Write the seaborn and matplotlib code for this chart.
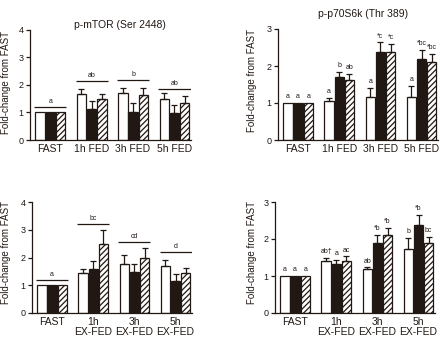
import numpy as np
import pandas as pd
import matplotlib
matplotlib.use("Agg")
import matplotlib.pyplot as plt
import seaborn as sns

# --- data -----------------------------------------------------------------
series = ["open", "filled", "hatched"]
fed_groups = ["FAST", "1h FED", "3h FED", "5h FED"]
exfed_groups = ["FAST", "1h\nEX-FED", "3h\nEX-FED", "5h\nEX-FED"]

# p-mTOR (Ser 2448), feeding only (rows = series, columns = time point)
mtor_fed_mean = [[1.0, 1.65, 1.69, 1.47],
                 [1.0, 1.14, 1.02, 0.96],
                 [1.0, 1.48, 1.63, 1.33]]
mtor_fed_sem = [[0.0, 0.19, 0.18, 0.22],
                [0.0, 0.26, 0.31, 0.29],
                [0.0, 0.17, 0.27, 0.27]]
mtor_fed_sig = ["a", "ab", "b", "ab"]
mtor_fed_sig_y = [1.2, 2.13, 2.17, 1.83]

# p-mTOR (Ser 2448), exercise + feeding
mtor_ex_mean = [[1.0, 1.44, 1.78, 1.71],
                [1.0, 1.59, 1.48, 1.14],
                [1.0, 2.50, 2.00, 1.44]]
mtor_ex_sem = [[0.0, 0.13, 0.32, 0.21],
               [0.0, 0.28, 0.27, 0.28],
               [0.0, 0.50, 0.34, 0.19]]
mtor_ex_sig = ["a", "bc", "cd", "d"]
mtor_ex_sig_y = [1.2, 3.2, 2.57, 2.2]

# p-p70S6k (Thr 389), feeding only
p70_fed_mean = [[1.0, 1.06, 1.17, 1.17],
                [1.0, 1.70, 2.39, 2.19],
                [1.0, 1.63, 2.39, 2.10]]
p70_fed_sem = [[0.0, 0.08, 0.23, 0.29],
               [0.0, 0.15, 0.25, 0.25],
               [0.0, 0.16, 0.21, 0.22]]
p70_fed_sig = [["a", "a", "a", "a"],
               ["a", "b", "*c", "*bc"],
               ["a", "ab", "*c", "*bc"]]

# p-p70S6k (Thr 389), exercise + feeding
p70_ex_mean = [[1.0, 1.40, 1.18, 1.74],
               [1.0, 1.33, 1.90, 2.38],
               [1.0, 1.41, 2.10, 1.90]]
p70_ex_sem = [[0.0, 0.10, 0.05, 0.30],
              [0.0, 0.11, 0.22, 0.27],
              [0.0, 0.12, 0.21, 0.15]]
p70_ex_sig = [["a", "ab\u2020", "ab", "b"],
              ["a", "a", "*b", "*b"],
              ["a", "ac", "*b", "bc"]]

# --- style ----------------------------------------------------------------
sns.set_theme(style="ticks")
plt.rcParams["font.family"] = ["Liberation Sans", "DejaVu Sans"]
DARK = "#211813"
plt.rcParams["hatch.color"] = DARK
plt.rcParams["hatch.linewidth"] = 0.9

W, H = 440, 337
fig = plt.figure(figsize=(W / 100, H / 100), dpi=100)


def px_axes(left, top, right, bottom):
    return fig.add_axes([left / W, 1 - bottom / H, (right - left) / W, (bottom - top) / H])


def draw_panel(ax, groups, means, sems, ymax):
    df = pd.DataFrame({
        "group": np.tile(groups, len(series)),
        "series": np.repeat(series, len(groups)),
        "value": np.ravel(means),
    })
    sns.barplot(data=df, x="group", y="value", hue="series",
                order=groups, hue_order=series,
                palette=["white", DARK, "white"], saturation=1,
                width=0.74, gap=0.08, errorbar=None,
                edgecolor=DARK, linewidth=0.9, legend=False, ax=ax)
    bar_sets = list(ax.containers[:len(series)])
    for bar in bar_sets[2]:
        bar.set_hatch("//////")
    # upper error bars from the bar heights
    for cont, sem_row in zip(bar_sets, sems):
        for bar, s in zip(cont, sem_row):
            if s <= 0:
                continue
            x = bar.get_x() + bar.get_width() / 2
            y = bar.get_height()
            ax.errorbar(x, y, yerr=[[0], [s]], fmt="none", ecolor=DARK,
                        elinewidth=0.9, capsize=2.3, capthick=0.9, zorder=1)
    ax.set_xlim(-0.49, 3.4)
    ax.set_ylim(0, ymax)
    ax.set_yticks(range(ymax + 1))
    ax.set_xlabel("")
    ax.set_ylabel("")
    sns.despine(ax=ax)
    for sp in ("left", "bottom"):
        ax.spines[sp].set_color(DARK)
        ax.spines[sp].set_linewidth(0.9)
    ax.tick_params(axis="y", length=3, width=0.9, color=DARK, labelsize=6.5,
                   pad=1.5, labelcolor=DARK)
    ax.tick_params(axis="x", length=0, labelsize=7.5, pad=3, labelcolor=DARK)
    for lab in ax.get_xticklabels():
        lab.set_linespacing(0.95)
    return bar_sets


def group_lines(ax, bar_sets, letters, ys):
    for j, (lab, y) in enumerate(zip(letters, ys)):
        bars = [cont[j] for cont in bar_sets]
        x0 = min(b.get_x() for b in bars) - 0.03
        x1 = max(b.get_x() + b.get_width() for b in bars) + 0.03
        ax.plot([x0, x1], [y, y], color=DARK, lw=0.9, solid_capstyle="butt")
        ax.annotate(lab, ((x0 + x1) / 2, y), xytext=(0, 1.5),
                    textcoords="offset points", ha="center", va="bottom",
                    fontsize=5, color=DARK)


def bar_letters(ax, bar_sets, letters, sems):
    for cont, lab_row, sem_row in zip(bar_sets, letters, sems):
        for bar, lab, s in zip(cont, lab_row, sem_row):
            x = bar.get_x() + bar.get_width() / 2
            y = bar.get_height() + s
            ax.annotate(lab, (x, y), xytext=(0, 2.0),
                        textcoords="offset points", ha="center", va="bottom",
                        fontsize=5, color=DARK)


ax_tl = px_axes(30, 29.5, 191, 140)
bars_tl = draw_panel(ax_tl, fed_groups, mtor_fed_mean, mtor_fed_sem, 4)
group_lines(ax_tl, bars_tl, mtor_fed_sig, mtor_fed_sig_y)

ax_tr = px_axes(278, 29, 438, 140)
bars_tr = draw_panel(ax_tr, fed_groups, p70_fed_mean, p70_fed_sem, 3)
bar_letters(ax_tr, bars_tr, p70_fed_sig, p70_fed_sem)

ax_bl = px_axes(32, 202, 192, 313)
bars_bl = draw_panel(ax_bl, exfed_groups, mtor_ex_mean, mtor_ex_sem, 4)
group_lines(ax_bl, bars_bl, mtor_ex_sig, mtor_ex_sig_y)

ax_br = px_axes(275, 202, 435, 313)
bars_br = draw_panel(ax_br, exfed_groups, p70_ex_mean, p70_ex_sem, 3)
bar_letters(ax_br, bars_br, p70_ex_sig, p70_ex_sem)

# titles and axis labels
fig.text(120 / W, 1 - 25 / H, "p-mTOR (Ser 2448)", ha="center", va="center",
         fontsize=7.5, color=DARK)
fig.text(363 / W, 1 - 14 / H, "p-p70S6k (Thr 389)", ha="center", va="center",
         fontsize=7.5, color=DARK)
for x, y in [(6, 82), (252, 80), (6, 252), (252, 253)]:
    fig.text(x / W, 1 - y / H, "Fold-change from FAST", rotation=90,
             ha="center", va="center", fontsize=7, color=DARK)

fig.savefig("out.png", dpi=100)
